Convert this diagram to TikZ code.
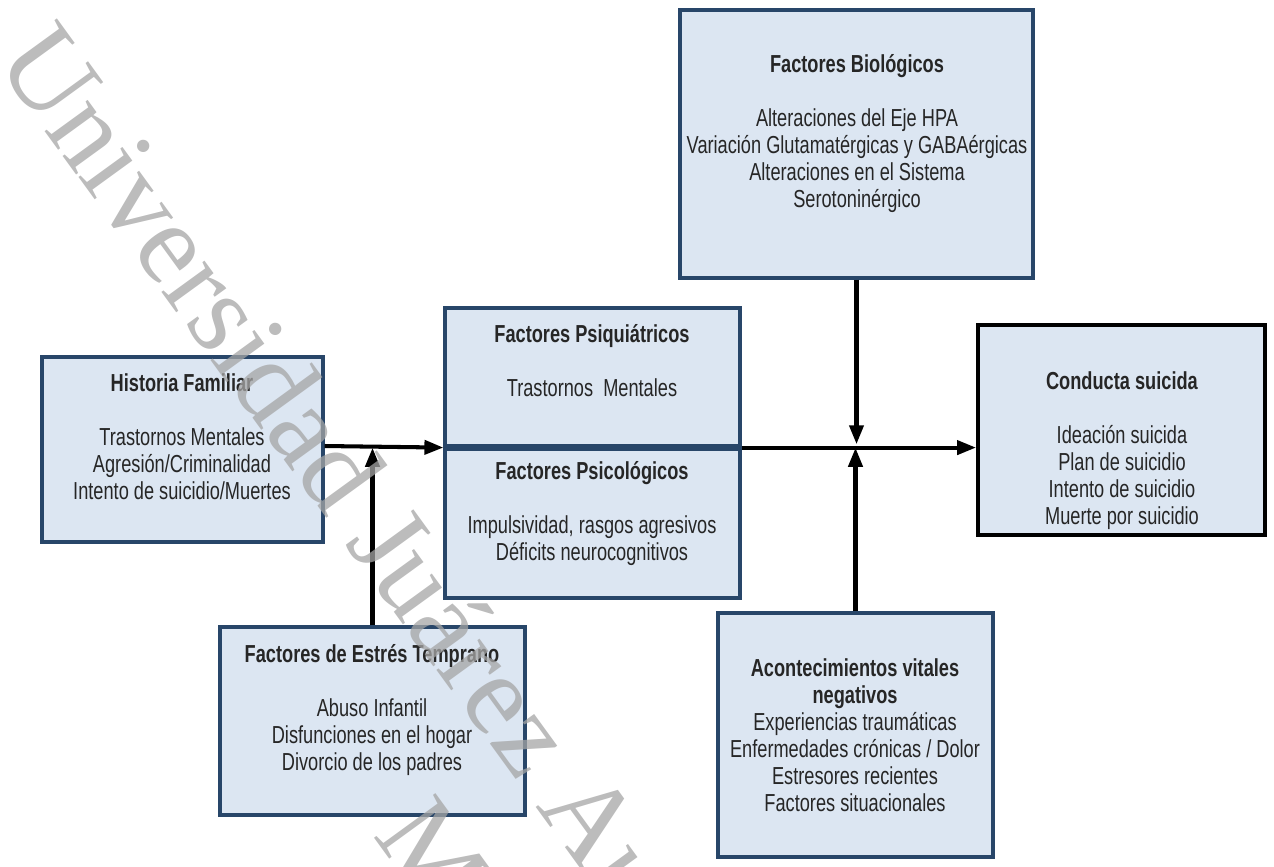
\documentclass[tikz,border=0pt]{standalone}
\usepackage{fontspec}
\setmainfont{Liberation Sans}[FakeStretch=0.74]
\newfontfamily\wmfont{Liberation Serif}
\usetikzlibrary{arrows.meta,fit}
\definecolor{boxfill}{RGB}{220,230,242}
\definecolor{boxline}{RGB}{40,70,105}
\definecolor{wmgray}{RGB}{165,165,165}
\newcommand{\boxfont}{\fontsize{14}{15.4}\selectfont}
\newcommand{\wmsize}{\fontsize{66}{70}\selectfont}
\begin{document}
\begin{tikzpicture}[x=0.02cm,y=-0.02cm,
  factor/.style={draw=boxline,line width=1.8pt,fill=boxfill,inner sep=0pt},
  outcome/.style={factor,draw=black,line width=2.2pt},
  boxtext/.style={align=center,font=\boxfont,text=black!85,inner sep=0pt,anchor=north},
  flow/.style={line width=2.3pt,-{Triangle[length=0.38cm,width=0.28cm]}},
  wmark/.style={font=\wmfont\wmsize,text=wmgray,text opacity=0.75,rotate=-54,inner sep=0pt,anchor=base west}]
\useasboundingbox (0,0) rectangle (1274,866);

% cajas
\node[factor,fit={(680,10) (1033,278)}] (bio) {};
\node[factor,fit={(42,357) (323,542)}] (hist) {};
\node[factor,fit={(445,308) (740,446)}] (psiq) {};
\node[factor,fit={(445,446) (740,598)}] (psic) {};
\node[outcome,fit={(978,325) (1265,535)}] (cond) {};
\node[factor,fit={(220,627) (525,815)}] (estr) {};
\node[factor,fit={(718,613) (993,857)}] (acon) {};
\draw[boxline,line width=4pt] (psiq.south west) -- (psiq.south east);

% textos
\node[boxtext] (bio-t) at (857,53) {\strut\textbf{Factores Biológicos}\\[15.4pt]
  Alteraciones del Eje HPA\\ Variación Glutamatérgicas y GABAérgicas\\
  Alteraciones en el Sistema\\ Serotoninérgico};
\node[boxtext] (hist-t) at (182,372) {\strut\textbf{Historia Familiar}\\[15.4pt]
  Trastornos Mentales\\ Agresión/Criminalidad\\ Intento de suicidio/Muertes};
\node[boxtext] (psiq-t) at (592,323) {\strut\textbf{Factores Psiquiátricos}\\[15.4pt]
  Trastornos\ \ Mentales};
\node[boxtext] (psic-t) at (592,460) {\strut\textbf{Factores Psicológicos}\\[15.4pt]
  Impulsividad, rasgos agresivos\\ Déficits neurocognitivos};
\node[boxtext] (cond-t) at (1122,370) {\strut\textbf{Conducta suicida}\\[15.4pt]
  Ideación suicida\\ Plan de suicidio\\ Intento de suicidio\\ Muerte por suicidio};
\node[boxtext] (estr-t) at (372,643) {\strut\textbf{Factores de Estrés Temprano}\\[15.4pt]
  Abuso Infantil\\ Disfunciones en el hogar\\ Divorcio de los padres};
\node[boxtext] (acon-t) at (855,657) {\strut\textbf{Acontecimientos vitales}\\ \textbf{negativos}\\
  Experiencias traumáticas\\ Enfermedades crónicas / Dolor\\
  Estresores recientes\\ Factores situacionales};

% flechas
\coordinate (jl) at (372,446);
\coordinate (jr) at (857,446);
\draw[flow] (hist.east |- jl) -- (psiq.south west);
\draw[flow] (psiq.south east) -- (psiq.south east -| cond.west);
\draw[flow,shorten >=1pt] (estr.north) -- (estr.north |- jl);
\draw[flow,shorten >=1pt] (bio.south) -- (bio.south |- jr);
\draw[flow,shorten >=1pt] (acon.north) -- (acon.north |- jr);

% marca de agua
\begin{scope}
  \clip (0,0) rectangle (1274,866);
  \node[wmark] (wm1) at (-6,61) {Universidad Juárez Autónoma de Tabasco};
  \node[wmark] (wm2) at (372,835) {México};
\end{scope}
\end{tikzpicture}
\end{document}
